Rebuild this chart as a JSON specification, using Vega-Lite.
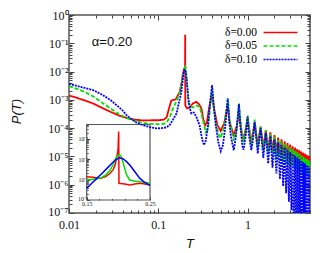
{
  "$schema": "https://vega.github.io/schema/vega-lite/v6.json",
  "width": 241,
  "height": 198,
  "autosize": "none",
  "padding": {"left": 69, "top": 15, "right": 21, "bottom": 40},
  "config": {
    "view": {"stroke": "#555555", "strokeWidth": 1.5},
    "axis": {"grid": false, "domain": false, "labelFont": "Liberation Serif", "labelColor": "#111111", "tickColor": "#444444", "tickWidth": 1, "labelOverlap": false, "labelFlush": false}
  },
  "datasets": {
    "main": [
      {"d":"δ=0.00","T":0.01,"P":1.413e-3},{"d":"δ=0.00","T":0.012,"P":1.202e-3},{"d":"δ=0.00","T":0.015,"P":9.55e-4},{"d":"δ=0.00","T":0.0187,"P":7.413e-4},{"d":"δ=0.00","T":0.023,"P":5.37e-4},{"d":"δ=0.00","T":0.029,"P":3.802e-4},{"d":"δ=0.00","T":0.036,"P":2.818e-4},{"d":"δ=0.00","T":0.044,"P":2.291e-4},{"d":"δ=0.00","T":0.055,"P":1.995e-4},{"d":"δ=0.00","T":0.068,"P":1.862e-4},{"d":"δ=0.00","T":0.085,"P":1.905e-4},{"d":"δ=0.00","T":0.1,"P":1.905e-4},{"d":"δ=0.00","T":0.115,"P":1.995e-4},{"d":"δ=0.00","T":0.124,"P":2.399e-4},{"d":"δ=0.00","T":0.132,"P":5.012e-4},{"d":"δ=0.00","T":0.14,"P":9.55e-4},{"d":"δ=0.00","T":0.15,"P":1e-3},{"d":"δ=0.00","T":0.157,"P":1.047e-3},{"d":"δ=0.00","T":0.165,"P":1.413e-3},{"d":"δ=0.00","T":0.174,"P":1.905e-3},{"d":"δ=0.00","T":0.182,"P":3.981e-3},{"d":"δ=0.00","T":0.189,"P":8.511e-3},{"d":"δ=0.00","T":0.195,"P":1.259e-2},{"d":"δ=0.00","T":0.1995,"P":1.413e-2},{"d":"δ=0.00","T":0.2,"P":0.1995},{"d":"δ=0.00","T":0.2005,"P":6.31e-4},{"d":"δ=0.00","T":0.21,"P":5.012e-4},{"d":"δ=0.00","T":0.225,"P":5.37e-4},{"d":"δ=0.00","T":0.245,"P":7.586e-4},{"d":"δ=0.00","T":0.267,"P":8.511e-4},{"d":"δ=0.00","T":0.285,"P":7.079e-4},{"d":"δ=0.00","T":0.304,"P":5.012e-4},{"d":"δ=0.00","T":0.32,"P":1.995e-4},{"d":"δ=0.00","T":0.335,"P":1.259e-4},{"d":"δ=0.00","T":0.35,"P":1.585e-4},{"d":"δ=0.00","T":0.37,"P":5.012e-4},{"d":"δ=0.00","T":0.4,"P":1.66e-3},{"d":"δ=0.00","T":0.42,"P":5.012e-4},{"d":"δ=0.00","T":0.46,"P":1.259e-4},{"d":"δ=0.00","T":0.5,"P":7.943e-5},{"d":"δ=0.00","T":0.55,"P":1.585e-4},{"d":"δ=0.00","T":0.6,"P":6.31e-4},{"d":"δ=0.00","T":0.63,"P":1.585e-4},{"d":"δ=0.00","T":0.7,"P":5.623e-5},{"d":"δ=0.00","T":0.76,"P":1.259e-4},{"d":"δ=0.00","T":0.8,"P":3.548e-4},{"d":"δ=0.00","T":0.85,"P":7.943e-5},{"d":"δ=0.00","T":0.9,"P":3.981e-5},{"d":"δ=0.00","T":0.96,"P":1e-4},{"d":"δ=0.00","T":1.0,"P":2.239e-4},{"d":"δ=0.00","T":1.1,"P":3.162e-5},{"d":"δ=0.00","T":1.2,"P":1.585e-4},{"d":"δ=0.00","T":1.3,"P":2.512e-5},{"d":"δ=0.00","T":1.4,"P":1.122e-4},{"d":"δ=0.00","T":1.5,"P":1.995e-5},{"d":"δ=0.00","T":1.6,"P":8.511e-5},{"d":"δ=0.00","T":1.7,"P":1.585e-5},{"d":"δ=0.00","T":1.8,"P":7.079e-5},{"d":"δ=0.00","T":1.9,"P":1.413e-5},{"d":"δ=0.00","T":2.0,"P":5.623e-5},{"d":"δ=0.00","T":2.1,"P":1.259e-5},{"d":"δ=0.00","T":2.2,"P":4.677e-5},{"d":"δ=0.00","T":2.3,"P":1.122e-5},{"d":"δ=0.00","T":2.4,"P":3.981e-5},{"d":"δ=0.00","T":2.5,"P":1e-5},{"d":"δ=0.00","T":2.6,"P":3.388e-5},{"d":"δ=0.00","T":2.7,"P":8.913e-6},{"d":"δ=0.00","T":2.8,"P":2.951e-5},{"d":"δ=0.00","T":2.9,"P":7.943e-6},{"d":"δ=0.00","T":3.0,"P":2.63e-5},{"d":"δ=0.00","T":3.1,"P":7.079e-6},{"d":"δ=0.00","T":3.2,"P":2.291e-5},{"d":"δ=0.00","T":3.3,"P":6.31e-6},{"d":"δ=0.00","T":3.4,"P":2.042e-5},{"d":"δ=0.00","T":3.5,"P":6.026e-6},{"d":"δ=0.00","T":3.6,"P":1.82e-5},{"d":"δ=0.00","T":3.7,"P":5.623e-6},{"d":"δ=0.00","T":3.8,"P":1.66e-5},{"d":"δ=0.00","T":3.9,"P":5.248e-6},{"d":"δ=0.00","T":4.0,"P":1.479e-5},{"d":"δ=0.00","T":4.1,"P":5.012e-6},{"d":"δ=0.00","T":4.2,"P":1.349e-5},{"d":"δ=0.00","T":4.3,"P":4.786e-6},{"d":"δ=0.00","T":4.4,"P":1.23e-5},{"d":"δ=0.00","T":4.5,"P":4.571e-6},{"d":"δ=0.00","T":4.6,"P":1.148e-5},{"d":"δ=0.00","T":4.7,"P":4.365e-6},{"d":"δ=0.00","T":4.8,"P":1.047e-5},{"d":"δ=0.00","T":4.9,"P":4.169e-6},{"d":"δ=0.00","T":5.0,"P":9.772e-6},

      {"d":"δ=0.05","T":0.01,"P":3.09e-3},{"d":"δ=0.05","T":0.012,"P":2.512e-3},{"d":"δ=0.05","T":0.015,"P":1.905e-3},{"d":"δ=0.05","T":0.0187,"P":1.318e-3},{"d":"δ=0.05","T":0.023,"P":8.318e-4},{"d":"δ=0.05","T":0.029,"P":5.012e-4},{"d":"δ=0.05","T":0.036,"P":3.162e-4},{"d":"δ=0.05","T":0.044,"P":2.291e-4},{"d":"δ=0.05","T":0.055,"P":1.778e-4},{"d":"δ=0.05","T":0.068,"P":1.514e-4},{"d":"δ=0.05","T":0.085,"P":1.413e-4},{"d":"δ=0.05","T":0.1,"P":1.38e-4},{"d":"δ=0.05","T":0.115,"P":1.413e-4},{"d":"δ=0.05","T":0.124,"P":1.585e-4},{"d":"δ=0.05","T":0.135,"P":2.512e-4},{"d":"δ=0.05","T":0.146,"P":5.012e-4},{"d":"δ=0.05","T":0.16,"P":8.913e-4},{"d":"δ=0.05","T":0.174,"P":1.905e-3},{"d":"δ=0.05","T":0.185,"P":5.012e-3},{"d":"δ=0.05","T":0.195,"P":1.122e-2},{"d":"δ=0.05","T":0.2,"P":1.66e-2},{"d":"δ=0.05","T":0.205,"P":1e-2},{"d":"δ=0.05","T":0.21,"P":3.162e-3},{"d":"δ=0.05","T":0.215,"P":1e-3},{"d":"δ=0.05","T":0.221,"P":6.457e-4},{"d":"δ=0.05","T":0.245,"P":5.37e-4},{"d":"δ=0.05","T":0.27,"P":6.31e-4},{"d":"δ=0.05","T":0.291,"P":5.623e-4},{"d":"δ=0.05","T":0.31,"P":2.512e-4},{"d":"δ=0.05","T":0.34,"P":7.079e-5},{"d":"δ=0.05","T":0.36,"P":8.913e-5},{"d":"δ=0.05","T":0.38,"P":5.012e-4},{"d":"δ=0.05","T":0.4,"P":2.399e-3},{"d":"δ=0.05","T":0.415,"P":6.31e-4},{"d":"δ=0.05","T":0.44,"P":1.585e-4},{"d":"δ=0.05","T":0.47,"P":6.31e-5},{"d":"δ=0.05","T":0.5,"P":4.467e-5},{"d":"δ=0.05","T":0.54,"P":1e-4},{"d":"δ=0.05","T":0.6,"P":1.072e-3},{"d":"δ=0.05","T":0.63,"P":1.995e-4},{"d":"δ=0.05","T":0.7,"P":3.548e-5},{"d":"δ=0.05","T":0.76,"P":1e-4},{"d":"δ=0.05","T":0.8,"P":7.943e-4},{"d":"δ=0.05","T":0.85,"P":1e-4},{"d":"δ=0.05","T":0.9,"P":3.162e-5},{"d":"δ=0.05","T":0.96,"P":1e-4},{"d":"δ=0.05","T":1.0,"P":2.818e-4},{"d":"δ=0.05","T":1.1,"P":2.512e-5},{"d":"δ=0.05","T":1.2,"P":1.995e-4},{"d":"δ=0.05","T":1.3,"P":1.995e-5},{"d":"δ=0.05","T":1.4,"P":1.202e-4},{"d":"δ=0.05","T":1.5,"P":1.585e-5},{"d":"δ=0.05","T":1.6,"P":8.318e-5},{"d":"δ=0.05","T":1.7,"P":1.259e-5},{"d":"δ=0.05","T":1.8,"P":6.31e-5},{"d":"δ=0.05","T":1.9,"P":1e-5},{"d":"δ=0.05","T":2.0,"P":5.012e-5},{"d":"δ=0.05","T":2.1,"P":7.943e-6},{"d":"δ=0.05","T":2.2,"P":4.074e-5},{"d":"δ=0.05","T":2.3,"P":7.079e-6},{"d":"δ=0.05","T":2.4,"P":3.388e-5},{"d":"δ=0.05","T":2.5,"P":6.31e-6},{"d":"δ=0.05","T":2.6,"P":2.818e-5},{"d":"δ=0.05","T":2.7,"P":5.623e-6},{"d":"δ=0.05","T":2.8,"P":2.399e-5},{"d":"δ=0.05","T":2.9,"P":5.012e-6},{"d":"δ=0.05","T":3.0,"P":2.089e-5},{"d":"δ=0.05","T":3.1,"P":4.467e-6},{"d":"δ=0.05","T":3.2,"P":1.82e-5},{"d":"δ=0.05","T":3.3,"P":3.981e-6},{"d":"δ=0.05","T":3.4,"P":1.585e-5},{"d":"δ=0.05","T":3.5,"P":3.548e-6},{"d":"δ=0.05","T":3.6,"P":1.413e-5},{"d":"δ=0.05","T":3.7,"P":3.162e-6},{"d":"δ=0.05","T":3.8,"P":1.259e-5},{"d":"δ=0.05","T":3.9,"P":2.818e-6},{"d":"δ=0.05","T":4.0,"P":1.096e-5},{"d":"δ=0.05","T":4.1,"P":2.512e-6},{"d":"δ=0.05","T":4.2,"P":1e-5},{"d":"δ=0.05","T":4.3,"P":2.399e-6},{"d":"δ=0.05","T":4.4,"P":8.913e-6},{"d":"δ=0.05","T":4.5,"P":2.239e-6},{"d":"δ=0.05","T":4.6,"P":8.128e-6},{"d":"δ=0.05","T":4.7,"P":2.089e-6},{"d":"δ=0.05","T":4.8,"P":7.413e-6},{"d":"δ=0.05","T":4.9,"P":1.995e-6},{"d":"δ=0.05","T":5.0,"P":6.918e-6},

      {"d":"δ=0.10","T":0.01,"P":3.715e-3},{"d":"δ=0.10","T":0.012,"P":3.162e-3},{"d":"δ=0.10","T":0.015,"P":2.63e-3},{"d":"δ=0.10","T":0.0187,"P":2.188e-3},{"d":"δ=0.10","T":0.023,"P":1.585e-3},{"d":"δ=0.10","T":0.029,"P":1e-3},{"d":"δ=0.10","T":0.033,"P":7.079e-4},{"d":"δ=0.10","T":0.036,"P":5.623e-4},{"d":"δ=0.10","T":0.04,"P":4.169e-4},{"d":"δ=0.10","T":0.044,"P":2.884e-4},{"d":"δ=0.10","T":0.05,"P":2.089e-4},{"d":"δ=0.10","T":0.057,"P":1.585e-4},{"d":"δ=0.10","T":0.068,"P":1.259e-4},{"d":"δ=0.10","T":0.08,"P":1.096e-4},{"d":"δ=0.10","T":0.096,"P":9.772e-5},{"d":"δ=0.10","T":0.11,"P":1e-4},{"d":"δ=0.10","T":0.124,"P":1.072e-4},{"d":"δ=0.10","T":0.135,"P":1.318e-4},{"d":"δ=0.10","T":0.146,"P":1.995e-4},{"d":"δ=0.10","T":0.16,"P":3.311e-4},{"d":"δ=0.10","T":0.173,"P":1e-3},{"d":"δ=0.10","T":0.18,"P":1.698e-3},{"d":"δ=0.10","T":0.188,"P":5.012e-3},{"d":"δ=0.10","T":0.194,"P":1.122e-2},{"d":"δ=0.10","T":0.2,"P":1.175e-2},{"d":"δ=0.10","T":0.205,"P":7.943e-3},{"d":"δ=0.10","T":0.21,"P":3.802e-3},{"d":"δ=0.10","T":0.218,"P":1e-3},{"d":"δ=0.10","T":0.226,"P":5.012e-4},{"d":"δ=0.10","T":0.234,"P":3.311e-4},{"d":"δ=0.10","T":0.25,"P":3.548e-4},{"d":"δ=0.10","T":0.267,"P":2.512e-4},{"d":"δ=0.10","T":0.29,"P":1.259e-4},{"d":"δ=0.10","T":0.31,"P":3.981e-5},{"d":"δ=0.10","T":0.325,"P":2.512e-5},{"d":"δ=0.10","T":0.34,"P":3.548e-5},{"d":"δ=0.10","T":0.36,"P":1.259e-4},{"d":"δ=0.10","T":0.38,"P":7.943e-4},{"d":"δ=0.10","T":0.4,"P":3.311e-3},{"d":"δ=0.10","T":0.415,"P":7.943e-4},{"d":"δ=0.10","T":0.44,"P":1.259e-4},{"d":"δ=0.10","T":0.47,"P":3.162e-5},{"d":"δ=0.10","T":0.5,"P":1.514e-5},{"d":"δ=0.10","T":0.53,"P":2.512e-5},{"d":"δ=0.10","T":0.56,"P":1e-4},{"d":"δ=0.10","T":0.6,"P":1.122e-3},{"d":"δ=0.10","T":0.62,"P":1.995e-4},{"d":"δ=0.10","T":0.65,"P":5.012e-5},{"d":"δ=0.10","T":0.7,"P":1.66e-5},{"d":"δ=0.10","T":0.74,"P":5.012e-5},{"d":"δ=0.10","T":0.8,"P":7.079e-4},{"d":"δ=0.10","T":0.83,"P":1.259e-4},{"d":"δ=0.10","T":0.87,"P":2.512e-5},{"d":"δ=0.10","T":0.9,"P":1.738e-5},{"d":"δ=0.10","T":0.95,"P":5.012e-5},{"d":"δ=0.10","T":1.0,"P":2.512e-4},{"d":"δ=0.10","T":1.03,"P":6.31e-5},{"d":"δ=0.10","T":1.1,"P":1.66e-5},{"d":"δ=0.10","T":1.15,"P":3.981e-5},{"d":"δ=0.10","T":1.2,"P":1.66e-4},{"d":"δ=0.10","T":1.3,"P":1.259e-5},{"d":"δ=0.10","T":1.4,"P":1e-4},{"d":"δ=0.10","T":1.5,"P":8.913e-6},{"d":"δ=0.10","T":1.6,"P":6.761e-5},{"d":"δ=0.10","T":1.7,"P":5.623e-6},{"d":"δ=0.10","T":1.8,"P":5.248e-5},{"d":"δ=0.10","T":1.9,"P":3.981e-6},{"d":"δ=0.10","T":2.0,"P":3.981e-5},{"d":"δ=0.10","T":2.1,"P":2.512e-6},{"d":"δ=0.10","T":2.2,"P":3.162e-5},{"d":"δ=0.10","T":2.3,"P":1.585e-6},{"d":"δ=0.10","T":2.4,"P":2.512e-5},{"d":"δ=0.10","T":2.5,"P":8.913e-7},{"d":"δ=0.10","T":2.6,"P":2.089e-5},{"d":"δ=0.10","T":2.7,"P":5.012e-7},{"d":"δ=0.10","T":2.8,"P":1.738e-5},{"d":"δ=0.10","T":2.9,"P":2.512e-7},{"d":"δ=0.10","T":3.0,"P":1.445e-5},{"d":"δ=0.10","T":3.1,"P":1.259e-7},{"d":"δ=0.10","T":3.2,"P":1.23e-5},{"d":"δ=0.10","T":3.3,"P":1e-8},{"d":"δ=0.10","T":3.4,"P":1.072e-5},{"d":"δ=0.10","T":3.5,"P":1e-8},{"d":"δ=0.10","T":3.6,"P":9.333e-6},{"d":"δ=0.10","T":3.7,"P":1e-8},{"d":"δ=0.10","T":3.8,"P":8.128e-6},{"d":"δ=0.10","T":3.9,"P":1e-8},{"d":"δ=0.10","T":4.0,"P":7.079e-6},{"d":"δ=0.10","T":4.1,"P":1e-8},{"d":"δ=0.10","T":4.2,"P":6.31e-6},{"d":"δ=0.10","T":4.3,"P":1e-8},{"d":"δ=0.10","T":4.4,"P":5.623e-6},{"d":"δ=0.10","T":4.5,"P":1e-8},{"d":"δ=0.10","T":4.6,"P":5.012e-6},{"d":"δ=0.10","T":4.7,"P":1e-8},{"d":"δ=0.10","T":4.8,"P":4.467e-6},{"d":"δ=0.10","T":4.9,"P":1e-8},{"d":"δ=0.10","T":5.0,"P":4.169e-6}
    ],
    "inset": [
      {"d":"δ=0.00","T":0.15,"P":1.38e-3},{"d":"δ=0.00","T":0.16,"P":1.318e-3},{"d":"δ=0.00","T":0.171,"P":1.148e-3},{"d":"δ=0.00","T":0.18,"P":1.413e-3},{"d":"δ=0.00","T":0.187,"P":2.042e-3},{"d":"δ=0.00","T":0.192,"P":3.162e-3},{"d":"δ=0.00","T":0.195,"P":5.248e-3},{"d":"δ=0.00","T":0.198,"P":1.585e-2},{"d":"δ=0.00","T":0.1995,"P":2.818e-2},{"d":"δ=0.00","T":0.2005,"P":0.2239},{"d":"δ=0.00","T":0.201,"P":6.607e-4},{"d":"δ=0.00","T":0.21,"P":6.026e-4},{"d":"δ=0.00","T":0.218,"P":5.495e-4},{"d":"δ=0.00","T":0.226,"P":6.026e-4},{"d":"δ=0.00","T":0.234,"P":6.607e-4},{"d":"δ=0.00","T":0.242,"P":6.026e-4},{"d":"δ=0.00","T":0.25,"P":5.495e-4},
      {"d":"δ=0.05","T":0.15,"P":9.55e-4},{"d":"δ=0.05","T":0.16,"P":1.047e-3},{"d":"δ=0.05","T":0.171,"P":1.148e-3},{"d":"δ=0.05","T":0.18,"P":1.66e-3},{"d":"δ=0.05","T":0.187,"P":2.951e-3},{"d":"δ=0.05","T":0.192,"P":5.623e-3},{"d":"δ=0.05","T":0.197,"P":1.318e-2},{"d":"δ=0.05","T":0.2015,"P":1.738e-2},{"d":"δ=0.05","T":0.204,"P":1.413e-2},{"d":"δ=0.05","T":0.207,"P":7.586e-3},{"d":"δ=0.05","T":0.21,"P":3.548e-3},{"d":"δ=0.05","T":0.213,"P":1.698e-3},{"d":"δ=0.05","T":0.218,"P":9.55e-4},{"d":"δ=0.05","T":0.226,"P":8.318e-4},{"d":"δ=0.05","T":0.234,"P":7.943e-4},{"d":"δ=0.05","T":0.242,"P":7.244e-4},{"d":"δ=0.05","T":0.25,"P":6.607e-4},
      {"d":"δ=0.10","T":0.15,"P":3.715e-4},{"d":"δ=0.10","T":0.158,"P":6.607e-4},{"d":"δ=0.10","T":0.166,"P":1.148e-3},{"d":"δ=0.10","T":0.174,"P":1.995e-3},{"d":"δ=0.10","T":0.182,"P":3.548e-3},{"d":"δ=0.10","T":0.19,"P":6.31e-3},{"d":"δ=0.10","T":0.195,"P":9.12e-3},{"d":"δ=0.10","T":0.2015,"P":1.175e-2},{"d":"δ=0.10","T":0.207,"P":1.047e-2},{"d":"δ=0.10","T":0.213,"P":7.586e-3},{"d":"δ=0.10","T":0.219,"P":4.786e-3},{"d":"δ=0.10","T":0.224,"P":2.951e-3},{"d":"δ=0.10","T":0.229,"P":1.82e-3},{"d":"δ=0.10","T":0.234,"P":1.148e-3},{"d":"δ=0.10","T":0.24,"P":7.943e-4},{"d":"δ=0.10","T":0.245,"P":6.31e-4},{"d":"δ=0.10","T":0.25,"P":5.248e-4}
    ]
  },
  "layer": [
    {
      "layer": [
        {
          "data": {"values": [{"box": "inset"}]},
          "mark": {"type": "rect", "fillOpacity": 0, "stroke": "#555555", "strokeWidth": 1.2},
          "encoding": {
            "x": {"datum": 0.15, "type": "quantitative", "scale": {"type": "linear", "domain": [0.15, 0.25], "range": [17.7, 81], "nice": false, "zero": false},
              "axis": {"orient": "bottom", "offset": -13, "values": [0.15,0.16,0.17,0.18,0.19,0.2,0.21,0.22,0.23,0.24,0.25], "labelExpr": "datum.value==0.15?'0.15':datum.value==0.2?'0.2':datum.value==0.25?'0.25':''", "tickSize": {"condition": {"test": "indexof([0.15,0.2,0.25], datum.value) >= 0", "value": -3}, "value": -1.5}, "labelFontSize": 6, "labelPadding": 3.5, "title": null}},
            "x2": {"datum": 0.25},
            "y": {"datum": 1e-4, "type": "quantitative", "scale": {"type": "log", "domain": [1e-4, 0.5], "range": [185, 109.5], "nice": false},
              "axis": {"orient": "left", "offset": -17.7, "values": [1e-4,2e-4,3e-4,4e-4,5e-4,6e-4,7e-4,8e-4,9e-4,1e-3,2e-3,3e-3,4e-3,5e-3,6e-3,7e-3,8e-3,9e-3,1e-2,2e-2,3e-2,4e-2,5e-2,6e-2,7e-2,8e-2,9e-2,0.1,0.2,0.3,0.4,0.5], "labelExpr": "indexof([1e-4,1e-3,1e-2,0.1], datum.value) >= 0 ? ['10⁻⁴','10⁻³','10⁻²','10⁻¹'][round(log(datum.value)/LN10)+4] : ''", "tickSize": {"condition": {"test": "indexof([1e-4,1e-3,1e-2,0.1], datum.value) >= 0", "value": -3}, "value": -1.5}, "labelOffset": {"condition": {"test": "datum.value == 1e-4", "value": -2}, "value": 0}, "labelFontSize": 6, "labelPadding": 2, "labelBaseline": "middle", "title": null}},
            "y2": {"datum": 0.5}
          }
        },
        {
          "data": {"name": "inset"},
          "mark": {"type": "line", "strokeWidth": 1.5},
          "encoding": {
            "x": {"field": "T", "type": "quantitative"},
            "y": {"field": "P", "type": "quantitative"},
            "color": {"field": "d", "type": "nominal"}
          }
        }
      ]
    },
    {
      "data": {"name": "main"},
      "mark": {"type": "point", "opacity": 0},
      "encoding": {
        "x": {"field": "T", "type": "quantitative", "scale": {"type": "log", "domain": [0.01, 5], "nice": false},
          "axis": {"orient": "top", "values": [0.01,0.02,0.03,0.04,0.05,0.06,0.07,0.08,0.09,0.1,0.2,0.3,0.4,0.5,0.6,0.7,0.8,0.9,1,2,3,4,5], "labels": false, "tickSize": {"condition": {"test": "indexof([0.01,0.1,1], datum.value) >= 0", "value": -5}, "value": -3}, "title": null}},
        "y": {"field": "P", "type": "quantitative", "scale": {"type": "log", "domain": [1e-7, 1], "nice": false},
          "axis": {"orient": "right", "values": [1e-7,2e-7,3e-7,4e-7,5e-7,6e-7,7e-7,8e-7,9e-7,1e-6,2e-6,3e-6,4e-6,5e-6,6e-6,7e-6,8e-6,9e-6,1e-5,2e-5,3e-5,4e-5,5e-5,6e-5,7e-5,8e-5,9e-5,1e-4,2e-4,3e-4,4e-4,5e-4,6e-4,7e-4,8e-4,9e-4,1e-3,2e-3,3e-3,4e-3,5e-3,6e-3,7e-3,8e-3,9e-3,1e-2,2e-2,3e-2,4e-2,5e-2,6e-2,7e-2,8e-2,9e-2,0.1,0.2,0.3,0.4,0.5,0.6,0.7,0.8,0.9,1], "labels": false, "tickSize": {"condition": {"test": "indexof([1e-7,1e-6,1e-5,1e-4,1e-3,1e-2,0.1,1], datum.value) >= 0", "value": -5}, "value": -3}, "title": null}}
      }
    },
    {
      "layer": [
        {
          "data": {"name": "main"},
          "mark": {"type": "line", "strokeWidth": 1.8, "clip": true},
          "encoding": {
            "x": {"field": "T", "type": "quantitative", "scale": {"type": "log", "domain": [0.01, 5], "nice": false},
              "axis": {"orient": "bottom", "values": [0.01,0.02,0.03,0.04,0.05,0.06,0.07,0.08,0.09,0.1,0.2,0.3,0.4,0.5,0.6,0.7,0.8,0.9,1,2,3,4,5], "labelExpr": "datum.value==0.01?'0.01':datum.value==0.1?'0.1':datum.value==1?'1':''", "tickSize": {"condition": {"test": "indexof([0.01,0.1,1], datum.value) >= 0", "value": -5}, "value": -3}, "labelFontSize": 12, "labelPadding": 11, "title": "T", "titleFont": "Liberation Sans", "titleFontStyle": "italic", "titleFontWeight": "normal", "titleFontSize": 13, "titleColor": "#111111", "titleY": 34, "titleBaseline": "alphabetic"}},
            "y": {"field": "P", "type": "quantitative", "scale": {"type": "log", "domain": [1e-7, 1], "nice": false},
              "axis": {"orient": "left", "values": [1e-7,2e-7,3e-7,4e-7,5e-7,6e-7,7e-7,8e-7,9e-7,1e-6,2e-6,3e-6,4e-6,5e-6,6e-6,7e-6,8e-6,9e-6,1e-5,2e-5,3e-5,4e-5,5e-5,6e-5,7e-5,8e-5,9e-5,1e-4,2e-4,3e-4,4e-4,5e-4,6e-4,7e-4,8e-4,9e-4,1e-3,2e-3,3e-3,4e-3,5e-3,6e-3,7e-3,8e-3,9e-3,1e-2,2e-2,3e-2,4e-2,5e-2,6e-2,7e-2,8e-2,9e-2,0.1,0.2,0.3,0.4,0.5,0.6,0.7,0.8,0.9,1], "labelExpr": "indexof([1e-7,1e-6,1e-5,1e-4,1e-3,1e-2,0.1,1], datum.value) >= 0 ? ['10⁻⁷','10⁻⁶','10⁻⁵','10⁻⁴','10⁻³','10⁻²','10⁻¹','10⁰'][round(log(datum.value)/LN10)+7] : ''", "tickSize": {"condition": {"test": "indexof([1e-7,1e-6,1e-5,1e-4,1e-3,1e-2,0.1,1], datum.value) >= 0", "value": -5}, "value": -3}, "labelOffset": {"condition": {"test": "datum.value == 1e-7", "value": -2}, "value": 0}, "labelFontSize": 12, "labelPadding": 6, "title": "P(T)", "titleFont": "Liberation Sans", "titleFontStyle": "italic", "titleFontWeight": "normal", "titleFontSize": 13, "titleColor": "#111111", "titleX": -46, "titleY": 96}},
            "color": {"field": "d", "type": "nominal", "scale": {"domain": ["δ=0.00", "δ=0.05", "δ=0.10"], "range": ["#ff0000", "#00e000", "#0000ff"]},
              "legend": {"orient": "none", "legendX": 205, "legendY": 11, "title": null, "symbolType": "M-3,0H3", "symbolSize": 128, "symbolStrokeWidth": 1.5, "labelAlign": "right", "labelOffset": -30, "labelFont": "Liberation Serif", "labelFontSize": 11.5, "labelColor": "#000000", "rowPadding": 1.5, "padding": 0}},
            "strokeDash": {"field": "d", "type": "nominal", "scale": {"domain": ["δ=0.00", "δ=0.05", "δ=0.10"], "range": [[1, 0], [4, 2], [2, 1]]},
              "legend": {"orient": "none", "legendX": 205, "legendY": 11, "title": null, "symbolType": "M-3,0H3", "symbolSize": 128, "symbolStrokeWidth": 1.5, "labelAlign": "right", "labelOffset": -30, "labelFont": "Liberation Serif", "labelFontSize": 11.5, "labelColor": "#000000", "rowPadding": 1.5, "padding": 0}}
          }
        },
        {
          "data": {"values": [{"label": "α=0.20"}]},
          "mark": {"type": "text", "font": "Liberation Sans", "fontSize": 13, "align": "left", "baseline": "middle", "color": "#111111"},
          "encoding": {
            "x": {"datum": 0.018, "type": "quantitative"},
            "y": {"datum": 0.11, "type": "quantitative"},
            "text": {"field": "label"}
          }
        }
      ]
    }
  ],
  "resolve": {"scale": {"x": "independent", "y": "independent"}, "axis": {"x": "independent", "y": "independent"}}
}
